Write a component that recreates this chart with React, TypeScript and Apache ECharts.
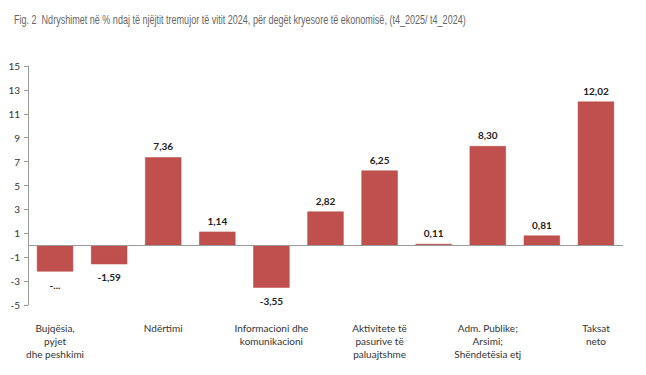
import React, { useEffect, useRef } from "react";
import * as echarts from "echarts";

const titleText =
  "Fig. 2  Ndryshimet në % ndaj të njëjtit tremujor të vitit 2024, për degët kryesore të ekonomisë, (t4_2025/ t4_2024)";

const categories = [
  "Bujqësia,\npyjet\ndhe peshkimi",
  "Industria",
  "Ndërtimi",
  "Tregtia",
  "Informacioni dhe\nkomunikacioni",
  "Aktivitete financiare",
  "Aktivitete të\npasurive të\npaluajtshme",
  "Aktivitete profesionale",
  "Adm. Publike;\nArsimi;\nShëndetësia etj",
  "Aktivitete artistike",
  "Taksat\nneto",
];

const values = [-2.2, -1.59, 7.36, 1.14, -3.55, 2.82, 6.25, 0.11, 8.3, 0.81, 12.02];
const valueLabels = ["-...", "-1,59", "7,36", "1,14", "-3,55", "2,82", "6,25", "0,11", "8,30", "0,81", "12,02"];

const yMin = -5;
const yMax = 15;
const yInterval = 2;

export default function App() {
  const ref = useRef<HTMLDivElement>(null);
  useEffect(() => {
    if (!ref.current) return;
    const chart = echarts.init(ref.current, undefined, { renderer: "svg" });
    chart.setOption({
      animation: false,
      backgroundColor: "#ffffff",
      graphic: [
        {
          type: "text",
          x: 14,
          y: 13,
          scaleX: 0.695,
          scaleY: 1,
          style: {
            text: titleText,
            fontFamily: "'Liberation Sans', Arial, sans-serif",
            fontSize: 13,
            fill: "#666666",
            textVerticalAlign: "top",
          },
        },
      ],
      grid: { left: 28, right: 23, top: 66, bottom: 70, containLabel: false },
      xAxis: {
        type: "category",
        data: categories,
        axisLine: { show: false },
        axisTick: { show: false },
        axisLabel: {
          interval: 1,
          margin: 16,
          fontFamily: "Lato, 'Open Sans', sans-serif",
          fontSize: 10,
          lineHeight: 13,
          color: "#333333",
          align: "center",
          verticalAlign: "top",
        },
      },
      yAxis: {
        type: "value",
        min: yMin,
        max: yMax,
        interval: yInterval,
        splitLine: { show: false },
        axisLine: { show: true, lineStyle: { color: "#9a9a9a", width: 1 } },
        axisTick: { show: true, length: 4, lineStyle: { color: "#9a9a9a" } },
        axisLabel: {
          margin: 8,
          fontFamily: "Lato, 'Open Sans', sans-serif",
          fontSize: 10,
          color: "#333333",
        },
      },
      series: [
        {
          type: "bar",
          data: values.map((v, i) => ({
            value: v,
            label: {
              show: true,
              position: v >= 0 ? "top" : "bottom",
              distance: v >= 0 ? 6 : 8,
              formatter: () => valueLabels[i],
            },
          })),
          barCategoryGap: "33%",
          itemStyle: { color: "#C0504D", borderColor: "#b5463f", borderWidth: 0.5 },
          label: {
            fontFamily: "Lato, 'Open Sans', sans-serif",
            fontSize: 10,
            fontWeight: "bold",
            color: "#222222",
          },
          markLine: {
            silent: true,
            symbol: "none",
            label: { show: false },
            lineStyle: { color: "#9a9a9a", type: "solid", width: 1 },
            data: [{ yAxis: 0 }],
          },
        },
      ],
    });
    return () => chart.dispose();
  }, []);
  return <div ref={ref} style={{ width: 646, height: 375, position: "absolute", left: 0, top: 0 }} />;
}
